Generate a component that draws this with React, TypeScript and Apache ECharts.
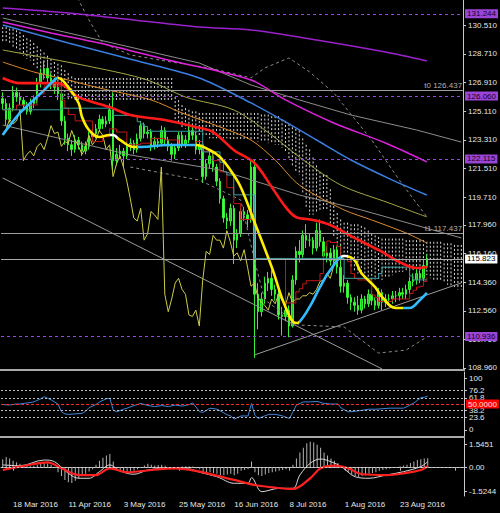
import React, { useEffect, useRef } from 'react';
import * as echarts from 'echarts';

// ---------- categories / ticks ----------
const categoryCount = 134;
const dateTickLabels = ['18 Mar 2016', '11 Apr 2016', '3 May 2016', '25 May 2016', '16 Jun 2016', '8 Jul 2016', '1 Aug 2016', '23 Aug 2016'];
const firstTickIndex = 3;
const tickStep = 16;

const priceTicks = [108.96, 110.76, 112.56, 114.36, 116.16, 117.96, 119.71, 121.51, 123.31, 125.11, 126.91, 128.71, 130.51];
const rsiTicks = [0, 23.6, 38.2, 61.8, 76.2, 100];
const rsiLevels = [23.6, 38.2, 61.8, 76.2];
const rsiMid = 50;
const macdTicks = [-1.5244, 0, 1.5451];

const levelLines = [131.244, 126.06, 122.115, 110.936];
const trendNames = ['t0', 't1'];
const trendValues = [126.437, 117.437];
const lastPrice = 115.823;

// ---------- candles [open, close, low, high] ----------
const candles = [
  [125.9, 125.6, 125.2, 126.3], [125.6, 124.6, 124.2, 125.9], [124.6, 125.3, 124.4, 125.6], [125.3, 126.3, 125.1, 126.7],
  [126.3, 126.0, 125.7, 126.6], [126.0, 125.8, 125.5, 126.3], [125.8, 125.5, 125.2, 126.0], [125.5, 125.1, 124.9, 125.7],
  [125.1, 125.6, 124.9, 125.9], [125.6, 125.8, 125.3, 126.1], [125.8, 126.9, 125.6, 127.2], [126.9, 127.5, 126.6, 127.8],
  [127.5, 127.8, 127.1, 128.3], [127.8, 127.2, 126.9, 128.2], [127.2, 127.0, 126.5, 127.5], [127.0, 126.6, 126.2, 127.2],
  [126.6, 126.2, 125.8, 126.9], [126.2, 124.5, 124.2, 126.4], [124.5, 123.4, 123.0, 124.8], [123.4, 123.0, 122.6, 123.7],
  [123.0, 122.7, 122.3, 123.3], [122.7, 123.3, 122.5, 123.6], [123.3, 123.0, 122.7, 123.5], [123.0, 122.6, 122.3, 123.2],
  [122.6, 122.9, 122.4, 123.2], [122.9, 123.5, 122.7, 123.8], [123.5, 123.7, 123.2, 124.0], [123.7, 124.0, 123.4, 124.3],
  [124.0, 124.6, 123.8, 124.9], [124.6, 124.3, 124.0, 124.8], [124.3, 124.5, 124.1, 124.8], [124.5, 125.2, 124.3, 125.6],
  [125.2, 122.0, 121.4, 126.3], [122.0, 122.4, 121.7, 122.8], [122.4, 122.6, 122.1, 123.0], [122.6, 122.3, 121.6, 122.8],
  [122.3, 122.9, 122.1, 123.2], [122.9, 123.1, 122.6, 123.4], [123.1, 122.7, 122.4, 123.3], [122.7, 123.4, 122.5, 123.7],
  [123.4, 124.2, 123.2, 124.5], [124.2, 123.7, 123.4, 124.4], [123.7, 123.8, 123.4, 124.1], [123.8, 122.9, 122.6, 124.0],
  [122.9, 123.2, 122.7, 123.5], [123.2, 123.1, 122.8, 123.4], [123.1, 123.9, 122.9, 124.2], [123.9, 123.3, 123.0, 124.1],
  [123.3, 122.9, 122.6, 123.5], [122.9, 122.4, 122.0, 123.1], [122.4, 122.8, 122.1, 123.0], [122.8, 123.6, 122.6, 123.8],
  [123.6, 123.0, 122.8, 123.8], [123.0, 123.3, 122.8, 123.6], [123.3, 123.9, 123.1, 124.2], [123.9, 123.6, 123.3, 124.1],
  [123.6, 122.7, 122.4, 123.8], [122.7, 123.0, 122.4, 123.3], [123.0, 121.0, 120.6, 123.2], [121.0, 121.8, 120.8, 122.1],
  [121.8, 122.3, 121.5, 122.6], [122.3, 121.6, 121.3, 122.5], [121.6, 120.7, 120.4, 121.8], [120.7, 119.6, 119.3, 120.9],
  [119.6, 118.4, 118.1, 119.8], [118.4, 118.2, 117.7, 118.7], [118.2, 119.0, 117.9, 119.3], [119.0, 117.0, 115.5, 119.2],
  [117.0, 117.4, 116.5, 117.7], [117.4, 118.8, 117.2, 119.0], [118.8, 118.6, 118.2, 119.1], [118.6, 118.3, 117.8, 118.9],
  [118.3, 121.6, 118.1, 122.0], [121.6, 113.6, 109.6, 122.1], [113.6, 112.5, 111.4, 114.3], [112.5, 113.3, 112.2, 113.7],
  [113.3, 114.3, 113.0, 114.7], [114.3, 114.6, 113.8, 115.0], [114.6, 113.9, 113.5, 115.1], [113.9, 113.6, 113.2, 114.2],
  [113.6, 112.3, 112.0, 113.9], [112.3, 112.2, 111.0, 112.8], [112.2, 112.6, 111.9, 113.0], [112.6, 111.6, 110.9, 112.9],
  [111.6, 114.5, 111.5, 114.8], [114.5, 116.3, 114.2, 116.6], [116.3, 116.1, 115.6, 117.0], [116.1, 117.3, 115.9, 117.6],
  [117.3, 117.0, 116.5, 118.0], [117.0, 117.0, 116.6, 117.4], [117.0, 116.5, 116.1, 117.2], [116.5, 117.6, 116.3, 118.1],
  [117.6, 116.9, 116.6, 118.3], [116.9, 116.0, 115.7, 117.2], [116.0, 116.2, 115.6, 116.6], [116.2, 115.7, 115.4, 116.5],
  [115.7, 116.4, 115.5, 116.7], [116.4, 115.3, 114.9, 116.6], [115.3, 114.1, 113.7, 116.7], [114.1, 114.3, 113.7, 114.8],
  [114.3, 113.4, 113.0, 114.5], [113.4, 113.1, 112.6, 113.6], [113.1, 112.9, 112.5, 113.4], [112.9, 112.6, 112.3, 113.5],
  [112.6, 113.3, 112.4, 113.6], [113.3, 113.0, 112.7, 113.5], [113.0, 113.6, 112.8, 113.9], [113.6, 113.2, 112.9, 113.8],
  [113.2, 112.9, 112.6, 113.4], [112.9, 113.7, 112.7, 114.0], [113.7, 113.1, 112.6, 113.9], [113.1, 113.3, 112.8, 113.6],
  [113.3, 113.3, 112.9, 113.6], [113.3, 113.5, 113.0, 113.8], [113.5, 113.5, 113.1, 113.8], [113.5, 113.7, 113.2, 114.0],
  [113.7, 113.6, 113.3, 114.0], [113.6, 113.9, 113.3, 114.2], [113.9, 114.4, 113.6, 114.7], [114.4, 114.5, 114.1, 114.9],
  [114.5, 114.9, 114.2, 115.2], [114.9, 114.6, 114.3, 115.1], [114.6, 115.4, 114.4, 115.7], [115.4, 115.823, 115.2, 116.1],
];

// ---------- overlays: [categoryIndex, price] ----------
const hullLine = [[0, 123.61], [5, 125.0], [9, 125.82], [12, 126.44], [15, 127.07], [16, 127.2], [19, 126.63], [22, 125.63], [23, 124.75], [25, 123.93], [28, 123.49], [31, 123.61], [32, 123.61], [34, 123.3], [38, 122.86], [40, 122.86], [48, 122.99], [56, 122.99], [60, 122.67], [63, 122.23], [66, 121.41], [69, 120.34], [73, 118.14], [78, 115.31], [82, 112.8], [85, 111.79], [86, 111.85], [89, 112.8], [92, 114.05], [95, 115.12], [99, 116.0], [102, 115.75], [104, 114.93], [108, 114.05], [110, 113.43], [114, 112.73], [118, 112.73], [121, 113.24], [123, 113.68]];
const redMA = [[0, 127.2], [5, 126.88], [11, 126.88], [16, 126.88], [22, 126.0], [31, 125.37], [37, 124.87], [47, 124.56], [56, 124.12], [61, 123.8], [67, 122.67], [73, 121.85], [78, 120.34], [82, 119.09], [85, 118.46], [90, 118.27], [95, 117.95], [102, 117.14], [110, 116.26], [115, 115.63], [120, 115.25], [123, 115.31]];
const orangeMA = [[0, 128.2], [9, 127.58], [19, 127.07], [28, 126.57], [43, 125.82], [52, 125.0], [63, 124.12], [72, 123.3], [79, 122.04], [86, 120.47], [99, 118.9], [107, 118.27], [117, 117.45], [123, 116.82]];
const oliveMA = [[0, 128.96], [26, 127.89], [42, 127.07], [53, 126.0], [67, 125.19], [78, 123.61], [86, 122.23], [98, 120.47], [112, 119.34], [123, 118.46]];
const blueMA = [[0, 130.53], [19, 129.4], [38, 128.33], [57, 127.2], [72, 125.63], [81, 124.56], [91, 123.3], [101, 122.04], [113, 120.78], [123, 119.84]];
const violetMA = [[0, 131.6], [19, 131.29], [38, 130.85], [57, 130.41], [72, 130.22], [91, 129.59], [111, 128.83], [123, 128.27]];
const magentaMA = [[0, 130.72], [14, 130.03], [28, 129.4], [48, 128.33], [72, 127.07], [82, 125.82], [96, 124.37], [111, 123.11], [123, 121.92]];
const grayUpper = [[0, 130.97], [28, 129.59], [57, 128.14], [72, 126.76], [86, 125.82], [101, 124.87], [120, 123.93], [133, 123.17]];
const grayMiddle = [[0, 124.24], [37, 122.36], [63, 121.41], [86, 119.84], [104, 118.9], [133, 117.14]];
const trendDown = [[0, 120.91], [110, 108.9]];
const trendUp = [[73, 109.78], [133, 114.31]];
const bandUpper = [[17, 133.36], [22, 132.1], [25, 130.85], [29, 129.4], [37, 128.65], [49, 128.2], [60, 127.83], [72, 127.2], [76, 127.83], [83, 128.46], [89, 127.58], [96, 126.26], [107, 123.3], [115, 120.78], [123, 118.46]];
const bandLower = [[37, 121.6], [57, 120.78], [69, 119.53], [73, 115.75], [76, 113.24], [86, 111.66], [99, 111.54], [109, 109.9], [117, 110.09], [123, 110.91]];
const tenkan = [[0, 125.2], [4, 125.5], [10, 126.2], [12, 126.7], [17, 125.8], [18, 125.3], [19, 124.9], [21, 124.5], [26, 123.2], [29, 123.5], [31, 124.0], [33, 123.8], [36, 123.0], [40, 123.1], [43, 123.4], [47, 123.3], [51, 123.0], [56, 123.2], [58, 122.6], [61, 122.0], [63, 121.3], [65, 120.3], [67, 119.3], [69, 118.3], [72, 118.7], [73, 115.85], [82, 113.05], [85, 113.75], [86, 113.95], [87, 114.25], [88, 114.45], [92, 114.9], [93, 116.25], [94, 116.95], [95, 116.85], [97, 116.6], [98, 116.0], [100, 115.65], [101, 114.9], [102, 114.6], [103, 114.5], [107, 113.55], [108, 113.4], [109, 113.15], [113, 113.3], [118, 113.65], [119, 113.85], [120, 114.05], [121, 114.1], [122, 114.4], [123, 114.65]];
const kijun = [[0, 125.2], [17, 125.3], [32, 124.85], [38, 124.8], [39, 124.45], [40, 124.3], [41, 124.15], [42, 123.9], [43, 123.85], [58, 122.55], [63, 121.9], [64, 121.3], [65, 121.1], [67, 119.85], [73, 115.85], [99, 114.6], [109, 114.9], [110, 115.3], [118, 114.75], [119, 114.5], [123, 114.5]];

const cloudTop = [
  130.4, 130.4, 130.3, 130.3, 130.2, 130.1, 129.9, 129.7, 129.6, 129.4, 129.2, 129.0, 128.8, 128.6, 128.4, 128.2, 128.1,
  128.0, 127.7, 127.5, 127.3, 127.2, 127.2, 127.2, 127.2, 127.2, 127.2, 127.2, 127.2, 127.2, 127.2, 127.2, 127.2, 127.2,
  127.2, 127.2, 127.2, 127.2, 127.2, 127.2, 127.2, 127.2, 127.2, 127.2, 127.2, 127.2, 127.2, 127.2, 127.2, 127.2,
  126.0, 125.8, 125.5, 125.3, 125.2, 125.1, 125.1, 125.0, 125.0, 125.0, 125.0, 125.0, 125.0, 125.0, 125.0, 125.0,
  125.0, 125.0, 125.0, 125.0, 125.0, 125.0, 125.0, 125.0, 125.0, 124.9, 124.9, 124.9, 124.8, 124.8, 124.8, 124.6,
  124.5, 124.3, 124.1, 124.0, 123.9, 123.4, 123.0, 122.7, 122.2, 121.7, 121.3, 121.1, 121.1, 120.2, 119.4, 118.7, 118.3,
  118.1, 118.1, 118.0, 118.0, 118.0, 117.9, 117.8, 117.6, 117.4, 117.3, 117.2, 117.1, 117.1, 117.1, 117.1, 117.1,
  117.1, 117.1, 117.0, 117.0, 117.0, 117.0, 117.0, 117.0, 116.9, 116.9, 116.9, 116.9, 116.9, 116.8, 116.8, 116.8,
  116.7, 116.7, 116.7,
];
const cloudBottom = [
  129.5, 129.4, 129.3, 129.1, 129.0, 128.8, 128.6, 128.4, 128.3, 128.0, 127.7, 127.4, 127.2, 126.9, 126.6, 126.3, 126.0,
  125.9, 125.9, 125.8, 125.8, 125.8, 125.8, 125.8, 125.8, 125.8, 125.8, 125.8, 125.8, 125.8, 125.8, 125.8, 125.8, 125.8,
  125.8, 125.8, 125.8, 125.8, 125.8, 125.8, 125.8, 125.8, 125.8, 125.8, 125.8, 125.8, 125.8, 125.8, 125.8, 125.8,
  124.5, 124.3, 124.1, 124.0, 123.9, 123.8, 123.7, 123.6, 123.5, 123.5, 123.4, 123.4, 123.4, 123.4, 123.4, 123.4,
  123.3, 123.3, 123.3, 123.3, 123.3, 123.3, 123.3, 123.3, 123.2, 123.2, 123.2, 123.1, 123.1, 123.0, 123.0, 122.8,
  122.5, 122.1, 121.7, 121.3, 121.1, 120.0, 119.0, 118.6, 118.6, 118.7, 118.8, 118.9, 118.9, 118.0, 117.2, 116.5, 116.1,
  115.9, 115.6, 115.3, 115.1, 114.9, 114.8, 114.7, 114.6, 114.5, 114.5, 114.5, 114.5, 114.6, 114.7, 114.8, 114.9,
  115.0, 115.0, 115.1, 115.1, 115.1, 115.1, 115.1, 115.0, 114.8, 114.6, 114.5, 114.4, 114.4, 114.3, 114.2, 114.1,
  114.0, 113.9, 113.9,
];

// ---------- oscillator panel ----------
const rsiPoints = [[0, 49], [2, 48], [4, 50], [5, 50], [7, 52], [9, 54], [11, 60], [12, 64], [13, 61], [14, 58], [16, 50], [17, 35], [18, 31], [19, 30], [21, 31], [23, 32], [24, 36], [25, 43], [27, 49], [28, 54], [30, 60], [31, 61], [32, 38], [33, 35], [35, 40], [36, 42], [38, 47], [40, 51], [42, 47], [44, 45], [46, 47], [48, 45], [50, 48], [52, 46], [54, 49], [55, 52], [57, 35], [58, 34], [60, 42], [62, 40], [64, 33], [65, 29], [66, 27], [67, 21], [68, 24], [69, 27], [71, 27], [72, 51], [73, 28], [74, 22], [75, 25], [77, 30], [79, 30], [81, 27], [83, 22], [84, 35], [85, 48], [87, 54], [89, 54], [91, 55], [93, 51], [95, 50], [97, 50], [98, 42], [100, 35], [102, 36], [104, 38], [106, 40], [108, 40], [110, 41], [112, 42], [114, 42], [116, 42], [117, 45], [119, 52], [121, 62], [122, 63], [123, 65]];

// ---------- MACD panel ----------
const macdHist = [
  0.55, 0.7, 0.6, 0.45, 0.35, 0.25, 0.15, 0.1, 0.1, 0.12, 0.2, 0.25, 0.3, 0.28, 0.2, 0.05, -0.3, -0.55, -0.8, -0.95,
  -1.0, -0.85, -0.7, -0.55, -0.4, -0.25, -0.1, 0.2, 0.45, 0.65, 0.8, 0.9, 0.4, -0.1, -0.3, -0.35, -0.3, -0.25, -0.2, -0.1,
  0.05, 0.15, 0.25, 0.2, 0.15, 0.18, 0.2, 0.12, 0.05, 0.0, -0.05, 0.05, 0.08, 0.1, 0.1, 0.08, -0.05, -0.1, -0.3, -0.35,
  -0.3, -0.35, -0.4, -0.5, -0.5, -0.45, -0.4, -0.5, -0.4, -0.2, -0.15, -0.1, 0.4, -0.3, -0.5, -0.55, -0.45, -0.35, -0.3, -0.25,
  -0.2, -0.15, -0.1, -0.1, 0.2, 0.6, 1.0, 1.3, 1.6, 1.7, 1.65, 1.5, 1.3, 1.0, 0.8, 0.6, 0.45, 0.3, 0.1, -0.15,
  -0.3, -0.45, -0.55, -0.6, -0.55, -0.5, -0.4, -0.35, -0.3, -0.2, -0.15, -0.1, -0.05, 0.0, 0.05, 0.1, 0.15, 0.2, 0.3, 0.4,
  0.5, 0.55, 0.6, 0.62,
];
const macdMain = [[0, 0.18], [5, 0.13], [12, 0.5], [15, 0.39], [19, -0.37], [22, -0.69], [25, -0.69], [28, -0.26], [31, 0.18], [34, -0.22], [38, -0.43], [42, -0.15], [48, -0.04], [54, -0.08], [57, -0.3], [62, -0.59], [67, -1.02], [71, -1.02], [72, -0.65], [75, -1.57], [80, -1.35], [84, -1.35], [86, -0.48], [89, 0.29], [92, 0.57], [95, 0.39], [98, 0.07], [102, -0.59], [106, -0.69], [111, -0.48], [116, -0.26], [121, 0.07], [123, 0.39]];
const macdSignal = [[0, -0.15], [5, 0.07], [13, 0.35], [17, -0.04], [22, -0.48], [27, -0.48], [31, -0.04], [36, -0.3], [43, -0.15], [50, -0.04], [57, -0.26], [67, -0.8], [73, -1.13], [79, -1.31], [84, -1.39], [89, -0.69], [92, -0.04], [96, 0.13], [100, -0.04], [104, -0.43], [111, -0.48], [116, -0.37], [121, -0.15], [123, 0.11]];

const FONT = 'Liberation Sans, Arial, sans-serif';
const AXIS_TEXT = '#e6e6e6';

export default function App() {
  const ref = useRef<HTMLDivElement>(null);

  useEffect(() => {
    if (!ref.current) return;
    const chart = echarts.init(ref.current, null, { renderer: 'svg' });
    const cats = Array.from({ length: categoryCount }, (_, i) => String(i));
    const isTick = (i: number) => i >= firstTickIndex && (i - firstTickIndex) % tickStep === 0;

    const thinLine = (data: number[][], color: string | null, width = 1, extra: any = {}) => ({
      type: 'line', xAxisIndex: 0, yAxisIndex: 0, data, showSymbol: false, symbol: 'none', silent: true,
      lineStyle: color ? { color, width } : { width }, ...extra,
    });

    const boxLabel = (text: string, bg: string, fg: string) => ({
      show: true, position: 'end', formatter: text, backgroundColor: bg, color: fg,
      padding: [0, 2, 0, 2], lineHeight: 9, fontSize: 8, fontFamily: FONT, distance: 2,
    });

    const series: any[] = [];
    // Ichimoku cloud as dotted columns
    series.push({
      type: 'custom', xAxisIndex: 0, yAxisIndex: 0, silent: true, clip: true,
      data: cloudTop.map((t, i) => [i, t, cloudBottom[i]]),
      encode: { x: 0, y: [1, 2] },
      renderItem: (params: any, api: any) => {
        const k = api.value(0);
        const a = api.coord([k, api.value(1)]);
        const b = api.coord([k, api.value(2)]);
        return {
          type: 'line',
          shape: { x1: a[0], y1: a[1], x2: b[0], y2: b[1] },
          style: { stroke: '#dcdcdc', lineWidth: 1, lineDash: [2, 2] },
        };
      },
    });
    series.push(thinLine(grayUpper, '#8c8c8c', 1));
    series.push(thinLine(grayMiddle, '#8c8c8c', 1));
    series.push(thinLine(trendDown, '#9a9a9a', 1));
    series.push(thinLine(trendUp, '#9a9a9a', 1));
    series.push(thinLine(bandUpper, '#8a8a8a', 1, { lineStyle: { color: '#8a8a8a', width: 1, type: [3, 3] } }));
    series.push(thinLine(bandLower, '#8a8a8a', 1, { lineStyle: { color: '#8a8a8a', width: 1, type: [3, 3] } }));
    series.push(thinLine(candles.slice(26).map((c, i) => [i, c[1]]), '#cccc44', 1));
    series.push({
      type: 'candlestick', xAxisIndex: 0, yAxisIndex: 0, data: candles, barWidth: 2, silent: true,
      itemStyle: { color: '#22c522', color0: '#44ff44', borderColor: '#33f033', borderColor0: '#33f033', borderWidth: 1 },
      markLine: {
        silent: true, symbol: ['none', 'none'], animation: false,
        data: [
          ...levelLines.map((v) => ({
            yAxis: v, lineStyle: { color: '#9a44dd', type: [3, 3], width: 1 },
            label: boxLabel(v.toFixed(3), '#9b45d6', '#1a0024'),
          })),
          ...trendValues.map((v, i) => ({
            yAxis: v, lineStyle: { color: '#9c9c9c', type: 'solid', width: 1 },
            label: { show: true, position: 'insideEndTop', formatter: `${trendNames[i]} ${v.toFixed(3)}`, color: '#b0b0b0', fontSize: 8, fontFamily: FONT, distance: 1 },
          })),
          {
            yAxis: lastPrice, lineStyle: { color: '#a8a8a8', type: 'solid', width: 1 },
            label: boxLabel(lastPrice.toFixed(3), '#ffffff', '#000000'),
          },
        ],
      },
    });
    series.push(thinLine(tenkan, '#c41818', 1, { step: 'end' }));
    series.push(thinLine(kijun, '#3a9e9e', 1, { step: 'end' }));
    series.push(thinLine(violetMA, '#9a22cc', 1.5, { smooth: 0.3 }));
    series.push(thinLine(magentaMA, '#dd22dd', 1.5, { smooth: 0.3 }));
    series.push(thinLine(blueMA, '#3a7ee0', 1.5, { smooth: 0.3 }));
    series.push(thinLine(oliveMA, '#a8a848', 1, { smooth: 0.3 }));
    series.push(thinLine(orangeMA, '#e08a2a', 1, { smooth: 0.3 }));
    series.push(thinLine(redMA, '#ff1a1a', 2.6, { smooth: 0.35 }));
    const hullIndex = series.length;
    series.push(thinLine(hullLine, null, 2.6, { smooth: 0.4 }));

    // oscillator
    series.push({
      type: 'line', xAxisIndex: 1, yAxisIndex: 1, data: rsiPoints, showSymbol: false, symbol: 'none', silent: true,
      lineStyle: { color: '#3f86dc', width: 1 },
      markLine: {
        silent: true, symbol: ['none', 'none'], animation: false,
        data: [
          ...rsiLevels.map((v) => ({ yAxis: v, lineStyle: { color: '#bdbdbd', type: [2, 2], width: 1 }, label: { show: false } })),
          {
            yAxis: rsiMid, lineStyle: { color: '#ff2a2a', type: [3, 2], width: 1 },
            label: boxLabel(rsiMid.toFixed(4), '#ff0000', '#ffe0e0'),
          },
        ],
      },
    });

    // MACD
    series.push({
      type: 'bar', xAxisIndex: 2, yAxisIndex: 2, data: macdHist, barWidth: 1, silent: true,
      itemStyle: { color: '#b4b4b4' },
      markLine: {
        silent: true, symbol: ['none', 'none'], animation: false,
        data: [{ yAxis: 0, lineStyle: { color: '#d0d0d0', type: [2, 2], width: 1 }, label: { show: false } }],
      },
    });
    series.push({
      type: 'line', xAxisIndex: 2, yAxisIndex: 2, data: macdMain, showSymbol: false, symbol: 'none', silent: true,
      smooth: 0.35, lineStyle: { color: '#d8d8d8', width: 1 },
    });
    series.push({
      type: 'line', xAxisIndex: 2, yAxisIndex: 2, data: macdSignal, showSymbol: false, symbol: 'none', silent: true,
      smooth: 0.35, lineStyle: { color: '#ff2020', width: 2.2 },
    });

    const CYAN = '#33bbff';
    const YEL = '#ffee00';
    const WHITE = '#ffffff';

    const yBase = (gridIndex: number, min: number, max: number, ticks: number[], fmt: (v: number) => string) => ({
      type: 'value', gridIndex, position: 'right', min, max, scale: true,
      splitLine: { show: false },
      axisLine: { show: true, lineStyle: { color: '#c8c8c8', width: 1 } },
      axisTick: { show: true, customValues: ticks, length: 3, lineStyle: { color: '#c8c8c8' } },
      axisLabel: { customValues: ticks, formatter: fmt, color: AXIS_TEXT, fontSize: 8, fontFamily: FONT, margin: 5 },
    });

    const option: any = {
      animation: false,
      backgroundColor: '#000000',
      textStyle: { fontFamily: FONT },
      grid: [
        { left: 1, right: 36, top: 0, height: 370 },
        { left: 1, right: 36, top: 372, height: 64 },
        { left: 1, right: 36, top: 438, height: 58 },
      ],
      xAxis: [
        { type: 'category', gridIndex: 0, data: cats, boundaryGap: true, show: false },
        { type: 'category', gridIndex: 1, data: cats, boundaryGap: true, show: false },
        {
          type: 'category', gridIndex: 2, data: cats, boundaryGap: true,
          axisLine: { show: true, lineStyle: { color: '#b0b0b0', width: 1 } },
          axisTick: { show: true, alignWithLabel: true, interval: (i: number) => isTick(i), length: 3, lineStyle: { color: '#b0b0b0' } },
          axisLabel: {
            interval: (i: number) => isTick(i),
            formatter: (_v: string, i: number) => dateTickLabels[(i - firstTickIndex) / tickStep] ?? '',
            align: 'left', color: AXIS_TEXT, fontSize: 8, fontFamily: FONT, margin: 4,
          },
          splitLine: { show: false },
        },
      ],
      yAxis: [
        yBase(0, 108.834, 132.105, priceTicks, (v: number) => v.toFixed(3)),
        yBase(1, -11.54, 111.54, rsiTicks, (v: number) => String(v)),
        yBase(2, -1.85, 1.941, macdTicks, (v: number) => (v === 0 ? '0.00' : String(v))),
      ],
      visualMap: [{
        type: 'piecewise', show: false, seriesIndex: hullIndex, dimension: 0,
        pieces: [
          { lt: 15.5, color: CYAN }, { gte: 15.5, lt: 31, color: YEL }, { gte: 31, lt: 33, color: WHITE },
          { gte: 33, lt: 39, color: YEL }, { gte: 39, lt: 56, color: CYAN }, { gte: 56, lt: 85.5, color: YEL },
          { gte: 85.5, lt: 98, color: CYAN }, { gte: 98, lt: 100, color: WHITE }, { gte: 100, lt: 116, color: YEL },
          { gte: 116, color: CYAN },
        ],
        outOfRange: { color: YEL },
      }],
      graphic: [
        { type: 'rect', shape: { x: 0, y: 369, width: 465, height: 2 }, style: { fill: '#a8a8a8' }, silent: true, z: 100 },
        { type: 'rect', shape: { x: 0, y: 436, width: 465, height: 2 }, style: { fill: '#a8a8a8' }, silent: true, z: 100 },
      ],
      series,
    };
    chart.setOption(option);
    return () => chart.dispose();
  }, []);

  return (
    <div
      ref={ref}
      style={{ position: 'fixed', left: 0, top: 0, width: 500, height: 513, background: '#000' }}
    />
  );
}
